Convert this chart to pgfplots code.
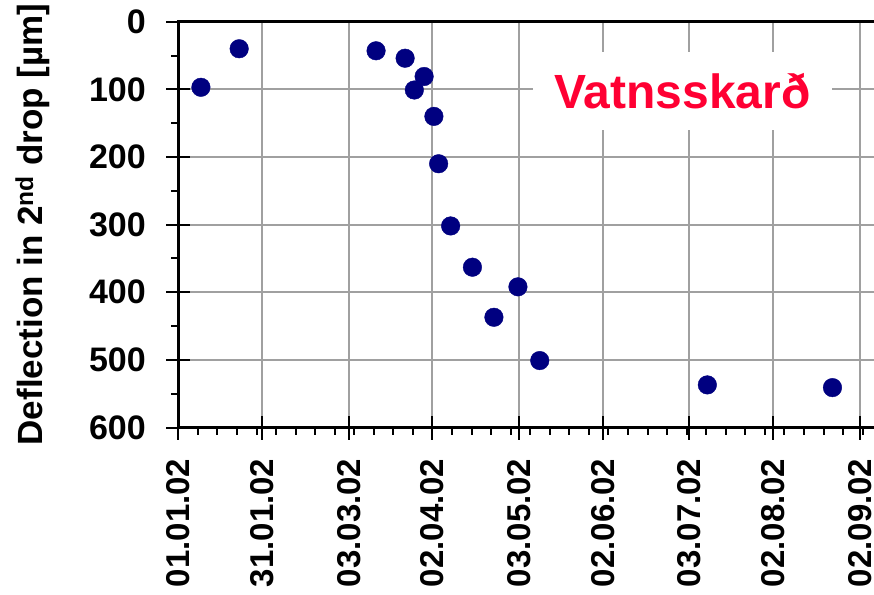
\documentclass[border=0pt]{standalone}
\usepackage{fontspec}
\setmainfont{Liberation Sans}
\usepackage{pgfplots}
\pgfplotsset{compat=1.18}
\usetikzlibrary{calc}
\definecolor{navy}{RGB}{0,0,128}
\definecolor{titlered}{RGB}{255,0,51}
\definecolor{gridgray}{RGB}{160,160,160}
\pgfplotstableread{
day val
8.1 97
21.8 40
70.8 43
81.2 54
88.0 81
84.5 101
91.5 140
93.2 210
97.5 302
105.3 363
113.0 437
121.6 392
129.4 501
189.4 537
234.2 541
}\deflection
\begin{document}
\begin{tikzpicture}
\begin{axis}[
  scale only axis,
  width=698.3pt, height=405.8pt,
  xmin=0, xmax=250, ymin=0, ymax=600, y dir=reverse,
  axis line style={line width=3pt, black},
  xtick={0,30,61,91,122,152,183,213,244},
  xticklabels={01.01.02,31.01.02,03.03.02,02.04.02,03.05.02,02.06.02,03.07.02,02.08.02,02.09.02},
  minor xtick={7,14,...,245},
  ytick={0,100,...,600},
  minor ytick={50,150,...,550},
  grid=major,
  major grid style={line width=2pt, gridgray},
  tick align=outside,
  major tick length=12pt, minor tick length=7pt,
  tick style={line width=2pt, black},
  xtick pos=left, xticklabel pos=left,
  ytick pos=left, yticklabel pos=left,
  extra x ticks={0,30,61,91,122,152,183,213,244},
  extra x tick labels={},
  extra x tick style={tick align=inside, grid=none},
  extra y ticks={0,100,...,600},
  extra y tick labels={},
  extra y tick style={tick align=inside, grid=none},
  /pgf/number format/assume math mode=true,
  xticklabel shift=18pt,
  xticklabel style={rotate=90, anchor=east, inner sep=1pt, font=\fontsize{33}{33}\selectfont\bfseries},
  yticklabel style={anchor=east, xshift=-17pt, font=\fontsize{34}{34}\selectfont\bfseries},
  ylabel={Deflection in 2\textsuperscript{nd} drop [µm]},
  every axis y label/.style={at={(axis description cs:-0.209,0.5)}, rotate=90, anchor=center, font=\fontsize{35}{35}\selectfont\bfseries},
]
\addplot[only marks, mark=*, mark size=9.3pt, color=navy, mark options={fill=navy, draw=navy}] table[x=day, y=val] {\deflection};
\node[fill=white, text=titlered, font=\fontsize{48}{48}\selectfont\bfseries, minimum width=299pt, minimum height=78pt, inner sep=0pt] at (axis cs:180.5,102.5) {Vatnsskarð};
\coordinate (bl) at (axis cs:0,600);
\coordinate (tl) at (axis cs:0,0);
\end{axis}
\pgfresetboundingbox
\path[use as bounding box] ($(bl)+(-178.3pt,-166.5pt)$) rectangle ($(tl)+(695.7pt,21.7pt)$);
\end{tikzpicture}
\end{document}
